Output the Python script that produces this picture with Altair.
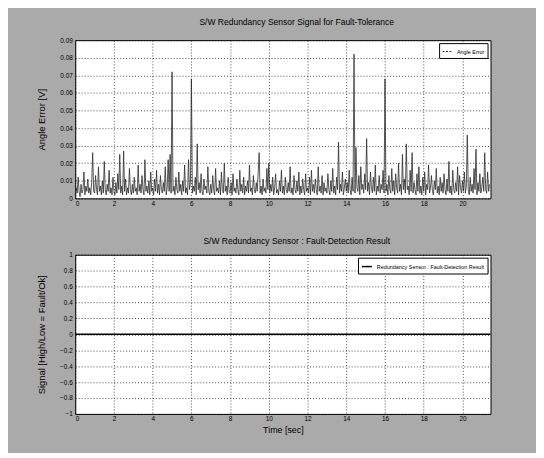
import altair as alt
import pandas as pd

# Angle error signal [V], sampled every 0.05 s from 0 to 21.4 s
angle_error = [
    .002,.006,.003,.012,.004,.001,.008,.003,.005,.015,.002,.007,.004,.011,.003,.006,.002,.009,.026,.004,
    .003,.013,.005,.002,.018,.004,.007,.002,.010,.003,.021,.005,.002,.008,.004,.016,.003,.006,.002,.012,
    .004,.002,.009,.003,.014,.005,.025,.003,.007,.002,.027,.004,.011,.002,.006,.003,.017,.005,.002,.008,
    .003,.012,.004,.006,.002,.019,.004,.008,.003,.013,.005,.002,.022,.004,.007,.003,.010,.002,.015,.004,
    .006,.002,.011,.004,.016,.003,.008,.002,.013,.005,.003,.009,.004,.018,.002,.006,.022,.004,.025,.003,
    .072,.004,.007,.002,.012,.005,.003,.015,.004,.008,.002,.010,.004,.019,.003,.006,.002,.022,.005,.009,
    .068,.003,.007,.004,.012,.002,.031,.005,.009,.003,.014,.004,.002,.011,.005,.007,.003,.018,.004,.002,
    .008,.003,.013,.005,.002,.017,.004,.006,.003,.010,.002,.015,.005,.003,.020,.004,.007,.002,.012,.004,
    .003,.009,.002,.014,.004,.006,.003,.011,.005,.002,.016,.004,.008,.003,.012,.002,.007,.004,.010,.003,
    .019,.004,.006,.002,.013,.005,.003,.009,.004,.015,.026,.003,.007,.002,.011,.004,.006,.003,.017,.005,
    .020,.003,.008,.004,.012,.002,.006,.014,.003,.005,.002,.010,.004,.016,.003,.007,.002,.012,.005,.003,
    .009,.004,.018,.003,.006,.002,.013,.005,.003,.010,.004,.015,.002,.007,.003,.011,.005,.002,.014,.004,
    .006,.003,.012,.002,.016,.004,.008,.003,.011,.005,.002,.018,.004,.007,.003,.013,.002,.009,.004,.006,
    .003,.014,.005,.002,.010,.004,.017,.003,.007,.002,.012,.005,.032,.003,.008,.004,.015,.002,.006,.011,
    .004,.009,.003,.016,.005,.002,.012,.004,.082,.003,.029,.006,.004,.013,.002,.018,.005,.008,.003,.014,
    .005,.034,.004,.009,.002,.015,.006,.003,.012,.004,.019,.002,.007,.004,.013,.003,.008,.005,.016,.003,
    .068,.004,.008,.002,.013,.005,.003,.017,.004,.010,.002,.014,.006,.003,.020,.004,.008,.002,.025,.005,
    .011,.003,.031,.005,.007,.002,.016,.004,.026,.003,.009,.005,.002,.014,.004,.018,.003,.007,.002,.012,
    .004,.015,.002,.008,.005,.019,.003,.006,.013,.004,.002,.010,.005,.017,.003,.007,.002,.012,.004,.009,
    .003,.014,.005,.002,.011,.004,.021,.003,.007,.002,.016,.005,.003,.009,.004,.018,.002,.013,.006,.003,
    .010,.004,.015,.003,.007,.036,.005,.002,.012,.004,.008,.003,.017,.005,.028,.002,.009,.004,.014,.003,
    .006,.012,.004,.026,.005,.003,.015,.004,.008,
]
sample_dt = 0.05
time = [round(i * sample_dt, 2) for i in range(len(angle_error))]

detect_time = [0, 21.45]
detect_signal = [0, 0]

x_ticks = [0, 2, 4, 6, 8, 10, 12, 14, 16, 18, 20]
top_y_ticks = [0, 0.01, 0.02, 0.03, 0.04, 0.05, 0.06, 0.07, 0.08, 0.09]
bot_y_ticks = [-1, -0.8, -0.6, -0.4, -0.2, 0, 0.2, 0.4, 0.6, 0.8, 1]

FONT = "Liberation Sans"

df1 = pd.DataFrame({"t": time, "v": angle_error, "s": "Angle Error"})
df2 = pd.DataFrame({"t": detect_time, "v": detect_signal,
                    "s": "Redundancy Sensor : Fault-Detection Result"})

def xaxis(title):
    kw = dict(values=x_ticks, format="~g", grid=True, gridColor="black",
              gridDash=[1, 2], gridOpacity=0.7, domain=False, ticks=False,
              labelFontSize=6.5, labelPadding=2, labelColor="black", labelFont=FONT)
    if title:
        return alt.Axis(title=title, titleFontSize=9, titleFont=FONT,
                        titleColor="black", titleFontWeight="normal", titlePadding=3, **kw)
    return alt.Axis(title=None, **kw)

def yaxis(title, ticks):
    return alt.Axis(values=ticks, format="~g", grid=True, gridColor="black",
                    gridDash=[1, 2], gridOpacity=0.7, domain=False, ticks=False,
                    labelFontSize=6.5, labelPadding=3, labelColor="black", labelFont=FONT,
                    title=title, titleFontSize=9.5, titleFont=FONT, titleColor="black",
                    titleFontWeight="normal", titlePadding=11, minExtent=18, maxExtent=18)

legend_kw = dict(orient="top-right", title=None, fillColor="white", strokeColor="black",
                 padding=3, offset=3, labelFontSize=5.5, labelFont=FONT, labelColor="black",
                 symbolType="stroke", symbolSize=100, cornerRadius=0)

top = alt.Chart(df1).mark_line(strokeWidth=0.8).encode(
    x=alt.X("t:Q", scale=alt.Scale(domain=[0, 21.45], nice=False, zero=False), axis=xaxis(None)),
    y=alt.Y("v:Q", scale=alt.Scale(domain=[0, 0.09], nice=False), axis=yaxis("Angle Error [V]", top_y_ticks)),
    color=alt.Color("s:N", scale=alt.Scale(range=["#2a2a2a"]),
                    legend=alt.Legend(symbolDash=[2, 1.5], symbolStrokeWidth=1, **legend_kw)),
).properties(width=420, height=160,
             title=alt.Title("S/W Redundancy Sensor Signal for Fault-Tolerance",
                             fontSize=8.6, font=FONT, fontWeight="normal", color="black",
                             offset=11, dx=14))

bottom = alt.Chart(df2).mark_line(strokeWidth=1.5).encode(
    x=alt.X("t:Q", scale=alt.Scale(domain=[0, 21.45], nice=False, zero=False), axis=xaxis("Time [sec]")),
    y=alt.Y("v:Q", scale=alt.Scale(domain=[-1, 1], nice=False),
            axis=yaxis("Signal [High/Low = Fault/Ok]", bot_y_ticks)),
    color=alt.Color("s:N", scale=alt.Scale(range=["black"]),
                    legend=alt.Legend(symbolStrokeWidth=1.5, **legend_kw)),
).properties(width=420, height=161,
             title=alt.Title("S/W Redundancy Sensor : Fault-Detection Result",
                             fontSize=8.6, font=FONT, fontWeight="normal", color="black",
                             offset=6, dx=14))

chart = alt.vconcat(top, bottom, spacing=29).resolve_scale(color="independent").resolve_legend(
    color="independent"
).configure(background="#aaaaaa", padding={"left": 28, "top": 6, "right": 42, "bottom": 16}).configure_view(
    fill="white", stroke="black", strokeWidth=1
)

chart.save("out.html", embed_options={"renderer": "svg", "actions": False})
